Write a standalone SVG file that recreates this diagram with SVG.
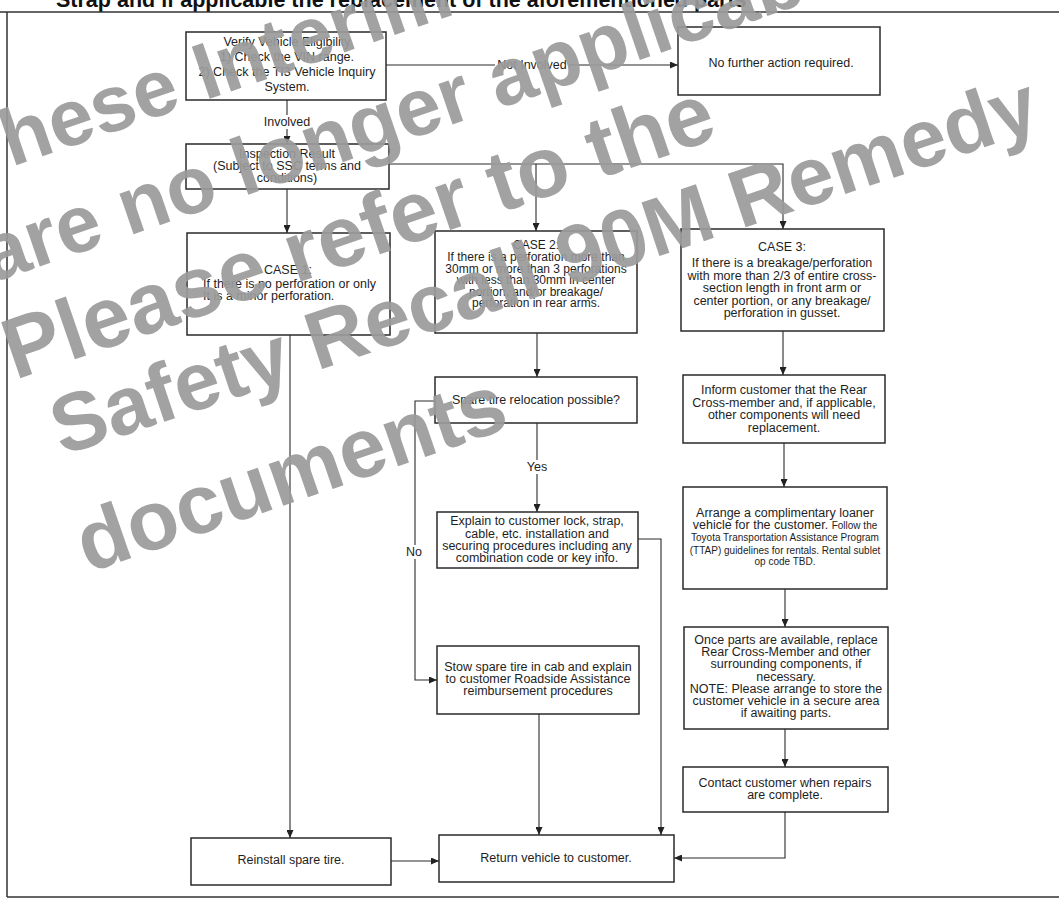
<svg xmlns="http://www.w3.org/2000/svg" width="1059" height="903" viewBox="0 0 1059 903">
<defs>
<marker id="arr" markerWidth="8" markerHeight="7" refX="8" refY="3.5" orient="auto" markerUnits="userSpaceOnUse">
<path d="M0,0 L8,3.5 L0,7 z" fill="#222"/>
</marker>
<style>
.box{fill:#fff;stroke:#2a2a2a;stroke-width:1.5}
.t{font-family:"Liberation Sans",Arial,sans-serif;font-size:12.5px;fill:#1e1e1e;text-anchor:middle}
.l{text-anchor:start}
.s{font-size:10px}
.c2{font-size:12px}
.ln{fill:none;stroke:#2a2a2a;stroke-width:1.1}
.fr{fill:none;stroke:#333;stroke-width:1.5}
.bg{fill:#fff}
.wm{font-family:"Liberation Sans",Arial,sans-serif;font-weight:bold;font-size:80px;fill:#9b9b9b;opacity:0.92}
.title{font-family:"Liberation Sans",Arial,sans-serif;font-weight:bold;font-size:21.5px;fill:#111}
</style>
</defs>
<rect x="0" y="0" width="1059" height="903" fill="#fff"/>
<g id="frame">
<text class="title" x="56" y="7">Strap and if applicable the replacement of the aforementioned parts</text>
<path class="fr" d="M0,12 H1059 M7,12 V897 M7,897 H1059"/>
</g>
<g id="connectors">
<path class="ln" d="M386,65 H678" marker-end="url(#arr)"/>
<path class="ln" d="M287,100 V144" marker-end="url(#arr)"/>
<path class="ln" d="M287,189 V233" marker-end="url(#arr)"/>
<path class="ln" d="M389,164 H783 V229" marker-end="url(#arr)"/>
<path class="ln" d="M536,164 V231" marker-end="url(#arr)"/>
<path class="ln" d="M290,335 V838" marker-end="url(#arr)"/>
<path class="ln" d="M537,333 V377" marker-end="url(#arr)"/>
<path class="ln" d="M537,423 V512" marker-end="url(#arr)"/>
<path class="ln" d="M435,401 H415 V680 H437" marker-end="url(#arr)"/>
<path class="ln" d="M638,539 H661 V835" marker-end="url(#arr)"/>
<path class="ln" d="M539,714 V835" marker-end="url(#arr)"/>
<path class="ln" d="M783,331 V375" marker-end="url(#arr)"/>
<path class="ln" d="M784,443 V487" marker-end="url(#arr)"/>
<path class="ln" d="M785,589 V627" marker-end="url(#arr)"/>
<path class="ln" d="M785,729 V767" marker-end="url(#arr)"/>
<path class="ln" d="M785,812 V858 H674" marker-end="url(#arr)"/>
<path class="ln" d="M391,861 H439" marker-end="url(#arr)"/>
<rect class="bg" x="495" y="58" width="74" height="14"/>
<text class="t" x="532" y="69">Not Involved</text>
<rect class="bg" x="262" y="115" width="50" height="14"/>
<text class="t" x="287" y="126">Involved</text>
<rect class="bg" x="524" y="460" width="26" height="14"/>
<text class="t" x="537" y="471">Yes</text>
<rect class="bg" x="404" y="545" width="20" height="14"/>
<text class="t" x="414" y="556">No</text>
</g>
<g id="verify">
<rect class="box" x="186" y="32" width="200" height="68"/>
<text class="t" x="287" y="46">Verify Vehicle Eligibility</text>
<text class="t" x="287" y="61">1) Check the VIN range.</text>
<text class="t" x="287" y="76">2) Check the TI3 Vehicle Inquiry</text>
<text class="t" x="287" y="91">System.</text>
</g>
<g id="nofurther">
<rect class="box" x="678" y="27" width="202" height="68"/>
<text class="t" x="781" y="67">No further action required.</text>
</g>
<g id="inspection">
<rect class="box" x="186" y="144" width="203" height="45"/>
<text class="t" x="287" y="158">Inspection Result</text>
<text class="t" x="287" y="170">(Subject to SSC terms and</text>
<text class="t" x="287" y="182">conditions)</text>
</g>
<g id="case1">
<rect class="box" x="187" y="233" width="203" height="102"/>
<text class="t l" x="264" y="274">CASE 1:</text>
<text class="t l" x="203" y="288">If there is no perforation or only</text>
<text class="t l" x="203" y="300">It is a minor perforation.</text>
</g>
<g id="case2">
<rect class="box" x="435" y="231" width="202" height="102"/>
<text class="t c2" x="536" y="249">CASE 2:</text>
<text class="t c2" x="536" y="261">If there is a perforation more than</text>
<text class="t c2" x="536" y="272.5">30mm or more than 3 perforations</text>
<text class="t c2" x="536" y="284">with less than 30mm in center</text>
<text class="t c2" x="536" y="295.5">portion, and/or breakage/</text>
<text class="t c2" x="536" y="307">perforation in rear arms.</text>
</g>
<g id="case3">
<rect class="box" x="681" y="229" width="203" height="102"/>
<text class="t" x="782" y="251">CASE 3:</text>
<text class="t" x="782" y="267">If there is a breakage/perforation</text>
<text class="t" x="782" y="279.5">with more than 2/3 of entire cross-</text>
<text class="t" x="782" y="292">section length in front arm or</text>
<text class="t" x="782" y="304.5">center portion, or any breakage/</text>
<text class="t" x="782" y="317">perforation in gusset.</text>
</g>
<g id="spare">
<rect class="box" x="435" y="377" width="202" height="46"/>
<text class="t" x="536" y="404">Spare tire relocation possible?</text>
</g>
<g id="inform">
<rect class="box" x="683" y="375" width="202" height="68"/>
<text class="t" x="784" y="394">Inform customer that the Rear</text>
<text class="t" x="784" y="407">Cross-member and, if applicable,</text>
<text class="t" x="784" y="419">other components will need</text>
<text class="t" x="784" y="432">replacement.</text>
</g>
<g id="explain">
<rect class="box" x="437" y="512" width="201" height="56"/>
<text class="t" x="537" y="525">Explain to customer lock, strap,</text>
<text class="t" x="537" y="538">cable, etc. installation and</text>
<text class="t" x="537" y="550">securing procedures including any</text>
<text class="t" x="537" y="562">combination code or key info.</text>
</g>
<g id="arrange">
<rect class="box" x="683" y="487" width="204" height="102"/>
<text class="t" x="785" y="517">Arrange a complimentary loaner</text>
<text class="t" x="785" y="529">vehicle for the customer. <tspan class="s">Follow the</tspan></text>
<text class="t s" x="785" y="541">Toyota Transportation Assistance Program</text>
<text class="t s" x="785" y="554">(TTAP) guidelines for rentals. Rental sublet</text>
<text class="t s" x="785" y="565">op code TBD.</text>
</g>
<g id="stow">
<rect class="box" x="437" y="646" width="202" height="68"/>
<text class="t" x="538" y="671">Stow spare tire in cab and explain</text>
<text class="t" x="538" y="683">to customer Roadside Assistance</text>
<text class="t" x="538" y="695">reimbursement procedures</text>
</g>
<g id="onceparts">
<rect class="box" x="684" y="627" width="204" height="102"/>
<text class="t" x="786" y="644">Once parts are available, replace</text>
<text class="t" x="786" y="656">Rear Cross-Member and other</text>
<text class="t" x="786" y="668">surrounding components, if</text>
<text class="t" x="786" y="681">necessary.</text>
<text class="t" x="786" y="693">NOTE: Please arrange to store the</text>
<text class="t" x="786" y="705">customer vehicle in a secure area</text>
<text class="t" x="786" y="717">if awaiting parts.</text>
</g>
<g id="contact">
<rect class="box" x="683" y="767" width="205" height="45"/>
<text class="t" x="785" y="787">Contact customer when repairs</text>
<text class="t" x="785" y="799">are complete.</text>
</g>
<g id="reinstall">
<rect class="box" x="191" y="838" width="200" height="47"/>
<text class="t" x="291" y="864">Reinstall spare tire.</text>
</g>
<g id="return">
<rect class="box" x="439" y="835" width="235" height="47"/>
<text class="t" x="556" y="862">Return vehicle to customer.</text>
</g>
<g id="watermark">
<text class="wm" transform="translate(-35,183) rotate(-19)">These Interim</text>
<text class="wm" style="font-size:81px" transform="translate(-8,283) rotate(-19)">are no longer applicable</text>
<text class="wm" style="font-size:86px" transform="translate(15,380) rotate(-19)">Please refer to the</text>
<text class="wm" style="font-size:82px" transform="translate(62,456) rotate(-18.5)">Safety Recall 90M Remedy</text>
<text class="wm" style="font-size:84px" transform="translate(88,573) rotate(-19)">documents</text>
</g>
</svg>
